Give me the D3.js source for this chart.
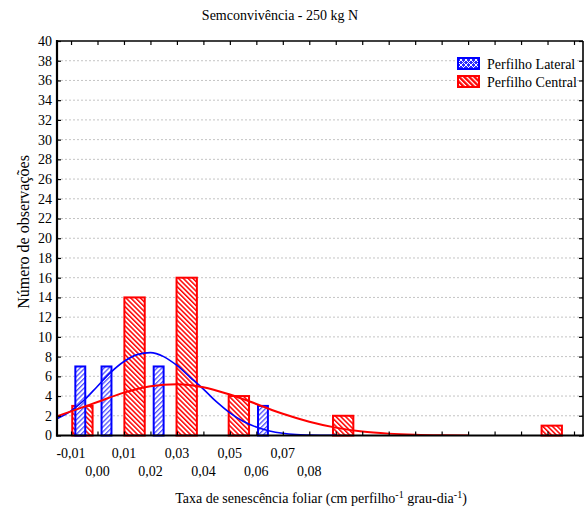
<!DOCTYPE html>
<html>
<head>
<meta charset="utf-8">
<script src="https://cdn.jsdelivr.net/npm/d3@7"></script>
<style>
  body { margin: 0; background: #fff; }
  text { font-family: "Liberation Serif", "Times New Roman", serif; fill: #000; }
</style>
</head>
<body>
<svg id="chart" width="585" height="513"></svg>
<script>
// Histogram bins (bin centre) and counts for each series
var lateralBins = [-0.0065, 0.0034, 0.0231, 0.0625];
var lateralCounts = [7, 7, 7, 3];
var centralBins = [-0.0057, 0.0140, 0.0337, 0.0534, 0.0928, 0.1716];
var centralCounts = [3, 14, 16, 4, 2, 1];

// Fitted curves, points
var lateralCurveX = [-0.0153, -0.01, -0.005, 0.0, 0.005, 0.01, 0.015, 0.02, 0.025, 0.03, 0.035, 0.04, 0.045, 0.05, 0.055, 0.06, 0.065, 0.07, 0.075, 0.08, 0.09];
var lateralCurveY = [1.7, 2.5, 3.6, 5.0, 6.4, 7.5, 8.2, 8.4, 8.0, 7.1, 5.9, 4.7, 3.4, 2.3, 1.45, 0.85, 0.45, 0.22, 0.1, 0.05, 0.01];
var centralCurveX = [-0.0153, -0.01, 0.0, 0.01, 0.02, 0.03, 0.04, 0.05, 0.06, 0.07, 0.08, 0.09, 0.10, 0.11, 0.12, 0.13, 0.14];
var centralCurveY = [1.95, 2.45, 3.4, 4.35, 5.0, 5.2, 4.9, 4.15, 3.2, 2.2, 1.4, 0.8, 0.4, 0.19, 0.08, 0.03, 0.01];

// Axis ticks and labels
var yTicks = [0, 2, 4, 6, 8, 10, 12, 14, 16, 18, 20, 22, 24, 26, 28, 30, 32, 34, 36, 38, 40];
var xTicks = [-0.01, 0.00, 0.01, 0.02, 0.03, 0.04, 0.05, 0.06, 0.07, 0.08, 0.09, 0.10, 0.11, 0.12, 0.13, 0.14, 0.15, 0.16, 0.17, 0.18];
var xLabels = ["-0,01", "0,00", "0,01", "0,02", "0,03", "0,04", "0,05", "0,06", "0,07", "0,08"];
var seriesNames = ["Perfilho Lateral", "Perfilho Central"];

var lateralBinWidth = 0.00985;
var centralBinWidth = 0.0197;

var blue = "#0000ff", red = "#ff0000";
var plotLeft = 57, plotRight = 583, plotTop = 41, plotBottom = 435.5;

var svg = d3.select("#chart");

// Hatch patterns
var defs = svg.append("defs");
function hatch(id, angle, size, stripe, color, bg) {
    var p = defs.append("pattern")
        .attr("id", id)
        .attr("patternUnits", "userSpaceOnUse")
        .attr("width", size).attr("height", size)
        .attr("patternTransform", "rotate(" + angle + ")");
    p.append("rect").attr("width", size).attr("height", size).attr("fill", bg);
    p.append("rect").attr("width", stripe).attr("height", size).attr("fill", color);
}
hatch("redHatch", -45, 3.4, 1.5, red, "#fff");
hatch("blueHatch", 45, 3.4, 1.3, "#4f4fff", "#fff");
hatch("redLegend", -45, 3.6, 2.3, red, "#fff");
var cross = defs.append("pattern")
    .attr("id", "blueCross")
    .attr("patternUnits", "userSpaceOnUse")
    .attr("width", 5).attr("height", 5);
cross.append("rect").attr("width", 5).attr("height", 5).attr("fill", "#2a2aff");
cross.append("path").attr("d", "M0,0L5,5M5,0L0,5").attr("stroke", "#fff").attr("stroke-width", 1);

var x = d3.scaleLinear().domain([-0.0153, 0.1834]).range([plotLeft, plotRight]);
var y = d3.scaleLinear().domain([0, 40]).range([plotBottom, plotTop]);

// Grid lines
svg.append("g").selectAll("line")
    .data(yTicks.filter(d => d > 0 && d < 40))
    .join("line")
    .attr("x1", plotLeft).attr("x2", plotRight)
    .attr("y1", d => y(d)).attr("y2", d => y(d))
    .attr("stroke", "#c4c4c4")
    .attr("stroke-dasharray", "2,2");

var plot = svg.append("g");
plot.append("clipPath").attr("id", "clip")
    .append("rect").attr("x", plotLeft).attr("y", plotTop)
    .attr("width", plotRight - plotLeft).attr("height", plotBottom - plotTop);

// Bars
var centralW = (x(centralBinWidth) - x(0)) * 0.39;
plot.append("g").selectAll("rect")
    .data(centralBins.map((b, i) => ({ b: b, n: centralCounts[i] })))
    .join("rect")
    .attr("x", d => x(d.b) - centralW / 2)
    .attr("y", d => y(d.n))
    .attr("width", centralW)
    .attr("height", d => y(0) - y(d.n))
    .attr("fill", "url(#redHatch)")
    .attr("stroke", red)
    .attr("stroke-width", 2);

var lateralW = (x(lateralBinWidth) - x(0)) * 0.38;
plot.append("g").selectAll("rect")
    .data(lateralBins.map((b, i) => ({ b: b, n: lateralCounts[i] })))
    .join("rect")
    .attr("x", d => x(d.b) - lateralW / 2)
    .attr("y", d => y(d.n))
    .attr("width", lateralW)
    .attr("height", d => y(0) - y(d.n))
    .attr("fill", "url(#blueHatch)")
    .attr("stroke", blue)
    .attr("stroke-width", 2);

// Fitted curves
var line = d3.line()
    .x(d => x(d[0]))
    .y(d => y(d[1]))
    .curve(d3.curveMonotoneX);

plot.append("path")
    .datum(lateralCurveX.map((v, i) => [v, lateralCurveY[i]]))
    .attr("d", line)
    .attr("clip-path", "url(#clip)")
    .attr("fill", "none")
    .attr("stroke", blue)
    .attr("stroke-width", 1.6);

plot.append("path")
    .datum(centralCurveX.map((v, i) => [v, centralCurveY[i]]))
    .attr("d", line)
    .attr("clip-path", "url(#clip)")
    .attr("fill", "none")
    .attr("stroke", red)
    .attr("stroke-width", 2);

// Frame
svg.append("line").attr("x1", plotLeft).attr("x2", plotRight).attr("y1", plotTop).attr("y2", plotTop)
    .attr("stroke", "#000").attr("stroke-width", 1.6);
svg.append("line").attr("x1", plotRight).attr("x2", plotRight).attr("y1", plotTop).attr("y2", plotBottom)
    .attr("stroke", "#000").attr("stroke-width", 1.6);
svg.append("line").attr("x1", plotLeft).attr("x2", plotLeft).attr("y1", plotTop - 1).attr("y2", plotBottom + 1)
    .attr("stroke", "#000").attr("stroke-width", 2.2);
svg.append("line").attr("x1", plotLeft - 1).attr("x2", plotRight + 1).attr("y1", plotBottom).attr("y2", plotBottom)
    .attr("stroke", "#000").attr("stroke-width", 2.2);

// Y axes: left with labels, right mirrored, ticks pointing inward
var yAxis = svg.append("g")
    .attr("transform", `translate(${plotLeft}, 0)`)
    .call(d3.axisRight(y).tickValues(yTicks).tickSize(4).tickFormat(""));
yAxis.select(".domain").remove();
yAxis.selectAll("line").attr("stroke", "#000").attr("stroke-width", 1.2);

svg.append("g").selectAll("text")
    .data(yTicks)
    .join("text")
    .attr("x", plotLeft - 5)
    .attr("y", d => y(d))
    .attr("dy", "0.35em")
    .attr("text-anchor", "end")
    .style("font-size", "14px")
    .text(d => d);

var yAxisR = svg.append("g")
    .attr("transform", `translate(${plotRight}, 0)`)
    .call(d3.axisLeft(y).tickValues(yTicks).tickSize(4).tickFormat(""));
yAxisR.select(".domain").remove();
yAxisR.selectAll("line").attr("stroke", "#000").attr("stroke-width", 1.2);

// X axes: bottom and top, ticks pointing inward
var xAxis = svg.append("g")
    .attr("transform", `translate(0, ${plotBottom})`)
    .call(d3.axisTop(x).tickValues(xTicks).tickSize(4).tickFormat(""));
xAxis.select(".domain").remove();
xAxis.selectAll("line").attr("stroke", "#000").attr("stroke-width", 1.2);

var xAxisT = svg.append("g")
    .attr("transform", `translate(0, ${plotTop})`)
    .call(d3.axisBottom(x).tickValues(xTicks).tickSize(4).tickFormat(""));
xAxisT.select(".domain").remove();
xAxisT.selectAll("line").attr("stroke", "#000").attr("stroke-width", 1.2);

// Staggered x labels
svg.append("g").selectAll("text")
    .data(xLabels)
    .join("text")
    .attr("x", (d, i) => x(xTicks[i]))
    .attr("y", (d, i) => i % 2 === 0 ? 458 : 476)
    .attr("text-anchor", "middle")
    .style("font-size", "14px")
    .text(d => d);

// Titles
svg.append("text")
    .attr("x", 280).attr("y", 20)
    .attr("text-anchor", "middle")
    .style("font-size", "14px")
    .text("Semconvivência - 250 kg N");

svg.append("text")
    .attr("transform", "rotate(-90)")
    .attr("x", -232).attr("y", 29)
    .attr("text-anchor", "middle")
    .style("font-size", "16px")
    .text("Número de observações");

var xt = svg.append("text")
    .attr("x", 321).attr("y", 503)
    .attr("text-anchor", "middle")
    .style("font-size", "14px");
xt.append("tspan").text("Taxa de senescência foliar (cm perfilho");
xt.append("tspan").attr("dy", -5).style("font-size", "10px").text("-1");
xt.append("tspan").attr("dy", 5).text(" grau-dia");
xt.append("tspan").attr("dy", -5).style("font-size", "10px").text("-1");
xt.append("tspan").attr("dy", 5).text(")");

// Legend
var legend = svg.append("g").attr("transform", "translate(456, 55)");
legend.append("rect")
    .attr("x", 0).attr("y", 0).attr("width", 121).attr("height", 36)
    .attr("fill", "#fff");
var swatches = ["url(#blueCross)", "url(#redLegend)"];
var strokes = [blue, red];
seriesNames.forEach(function (name, i) {
    legend.append("rect")
        .attr("x", 2).attr("y", 3 + i * 18)
        .attr("width", 21).attr("height", 11)
        .attr("fill", swatches[i])
        .attr("stroke", strokes[i])
        .attr("stroke-width", 2);
    legend.append("text")
        .attr("x", 31).attr("y", 13.5 + i * 18)
        .style("font-size", "14px")
        .text(name);
});
</script>
</body>
</html>
